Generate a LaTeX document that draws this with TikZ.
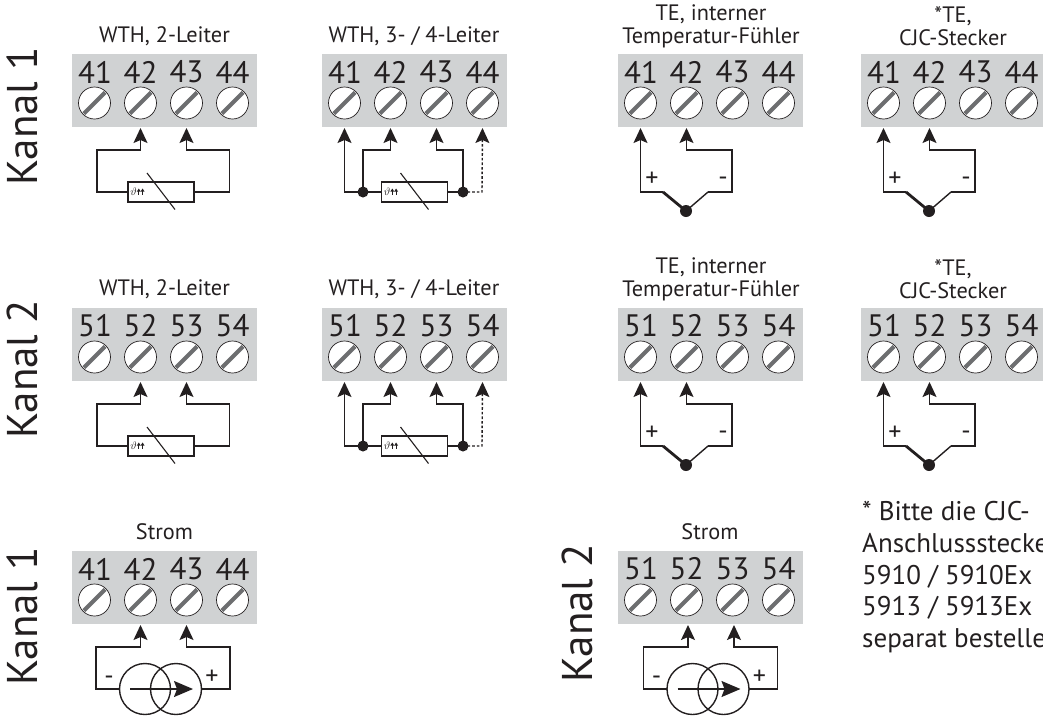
\documentclass[tikz,border=0pt]{standalone}
\usepackage{fontspec}
\setmainfont{PT Sans}
\usetikzlibrary{arrows.meta,calc}
\definecolor{blockgray}{HTML}{D0D2D3}
\definecolor{slotgray}{HTML}{6D6E70}
\definecolor{inkdark}{HTML}{231F20}
\tikzset{
  blockbox/.style={fill=blockgray,draw=none,anchor=north west,minimum width=185pt,minimum height=73pt,inner sep=0pt,outer sep=0pt},
  screwhead/.style={circle,draw=inkdark,fill=white,line width=0.7pt,minimum size=32pt,inner sep=0pt,outer sep=0pt},
  slotbar/.style={draw=slotgray,line width=4.2pt,line cap=butt,shorten >=1pt,shorten <=1pt},
  termnum/.style={font=\fontsize{31}{31}\selectfont,text=inkdark,inner sep=0pt},
  titletext/.style={font=\fontsize{22.3}{23}\selectfont,text=inkdark,inner sep=0pt,align=center},
  kanaltext/.style={font=\fontsize{43}{43}\selectfont,text=inkdark,inner sep=0pt,rotate=90},
  wire/.style={draw=inkdark,line width=1.4pt,line join=miter},
  arrowwire/.style={wire,-{Stealth[length=15pt,width=14pt,inset=3pt]}},
  dashwire/.style={draw=inkdark,line width=1.4pt,dash pattern=on 2.6pt off 2pt,-{Stealth[length=15pt,width=14pt,inset=3pt]}},
  thickwire/.style={draw=inkdark,line width=2.8pt},
  joint/.style={circle,fill=inkdark,draw=none,minimum size=#1,inner sep=0pt,outer sep=0pt},
  joint/.default=11pt,
  rtdbox/.style={draw=inkdark,fill=white,line width=1.2pt,minimum width=66pt,minimum height=20pt,inner sep=0pt,outer sep=0pt},
  slashline/.style={draw=inkdark,line width=1.1pt},
  srcring/.style={circle,draw=inkdark,line width=1.4pt,minimum size=51pt,inner sep=0pt,outer sep=0pt},
  srcarrow/.style={draw=inkdark,line width=1.6pt,-{Stealth[length=19pt,width=16pt,inset=3pt]}},
  signtext/.style={font=\fontsize{26}{26}\selectfont,text=inkdark,inner sep=0pt},
  notetext/.style={font=\fontsize{27}{31.8}\selectfont,text=inkdark,inner sep=0pt,align=left,anchor=north west},
}
% terminal block: prefix, x, y, four numbers
\newcommand{\termblock}[7]{%
  \node[blockbox] (#1) at (#2,#3) {};
  \begin{scope}[shift={(#2,#3)}]
    \node[termnum] (#1n1) at (23,18) {#4};
    \node[termnum] (#1n2) at (68.5,18) {#5};
    \node[termnum] (#1n3) at (114.5,18) {#6};
    \node[termnum] (#1n4) at (160.5,18) {#7};
    \node[screwhead] (#1s1) at (22.5,49) {};
    \node[screwhead] (#1s2) at (68.5,49) {};
    \node[screwhead] (#1s3) at (114.5,49) {};
    \node[screwhead] (#1s4) at (160.5,49) {};
    \draw[slotbar] (#1s1.225) -- (#1s1.45);
    \draw[slotbar] (#1s2.225) -- (#1s2.45);
    \draw[slotbar] (#1s3.225) -- (#1s3.45);
    \draw[slotbar] (#1s4.225) -- (#1s4.45);
    \coordinate (#1t1) at (22.5,74);
    \coordinate (#1t2) at (68.5,74);
    \coordinate (#1t3) at (114.5,74);
    \coordinate (#1t4) at (160.5,74);
  \end{scope}}
% resistor element with its temperature symbol
\newcommand{\rtdelement}[3]{%
  \node[rtdbox] (#1) at (#2,#3) {};
  \draw[slashline] ($(#1.center)+(-14,-19)$) -- ($(#1.center)+(14,17.5)$);
  \node[inner sep=0pt,text=inkdark,font=\fontsize{11}{11}\selectfont] (#1sym) at ($(#1.center)+(-27.5,-0.5)$) {$\vartheta$};
  \fill[inkdark] ($(#1.center)+(-22.2,-3.5)$) -- ++(1.9,3) -- ++(-3.8,0) -- cycle;
  \fill[inkdark] ($(#1.center)+(-18.4,-3.5)$) -- ++(1.9,3) -- ++(-3.8,0) -- cycle;
  \draw[inkdark,line width=.9pt] ($(#1.center)+(-22.2,-1)$) -- ++(0,4);
  \draw[inkdark,line width=.9pt] ($(#1.center)+(-18.4,-1)$) -- ++(0,4);}
% WTH 2-wire
\newcommand{\wthtwo}[3]{%
  \begin{scope}[shift={(#2,#3)}]
    \rtdelement{#1r}{89}{138}
    \coordinate (#1la) at (25,96);
    \coordinate (#1ra) at (157.5,96);
    \coordinate (#1lb) at (25,138);
    \coordinate (#1rb) at (157.5,138);
    \draw[arrowwire] (#1r.west) -- (#1lb) -- (#1la) -| (#1t2);
    \draw[arrowwire] (#1r.east) -- (#1rb) -- (#1ra) -| (#1t3);
  \end{scope}}
% WTH 3-/4-wire
\newcommand{\wthfour}[3]{%
  \begin{scope}[shift={(#2,#3)}]
    \rtdelement{#1r}{92.5}{138}
    \node[joint] (#1jl) at (41,138) {};
    \node[joint] (#1jr) at (141,138) {};
    \coordinate (#1la) at (41,96);
    \coordinate (#1ra) at (141,96);
    \coordinate (#1cl) at (22.5,138);
    \coordinate (#1cr) at (160,138);
    \draw[arrowwire] (#1r.west) -- (#1cl) -- (#1t1);
    \draw[arrowwire] (#1jl.center) -- (#1la) -| (#1t2);
    \draw[arrowwire] (#1r.east) -- (#1jr.center) -- (#1ra) -| (#1t3);
    \draw[dashwire] (#1jr.center) -- (#1cr) -- (#1t4);
  \end{scope}}
% thermocouple
\newcommand{\thermo}[3]{%
  \begin{scope}[shift={(#2,#3)}]
    \node[joint=12pt] (#1j) at (68,157) {};
    \coordinate (#1a) at (22.5,138);
    \coordinate (#1b) at (45,138);
    \coordinate (#1c) at (90,138);
    \coordinate (#1d) at (114,138);
    \coordinate (#1e) at (114,96);
    \draw[arrowwire] (#1b) -- (#1a) -- (#1t1);
    \draw[thickwire] (#1b) -- (#1j.center);
    \draw[wire] (#1j.center) -- (#1c);
    \draw[arrowwire] (#1c) -- (#1d) -- (#1e) -| (#1t2);
    \node[signtext] (#1plus) at (34,125) {+};
    \node[signtext] (#1minus) at (105,127) {-};
  \end{scope}}
% current source
\newcommand{\csource}[4]{%
  \begin{scope}[shift={(#2,#3)}]
    \node[srcring] (#1ca) at (73+#4,138) {};
    \node[srcring] (#1cb) at (104+#4,138) {};
    \coordinate (#1a) at (24+#4,96);
    \coordinate (#1b) at (24+#4,138);
    \coordinate (#1c) at (158+#4,96);
    \coordinate (#1d) at (158+#4,138);
    \coordinate (#1ga) at (68.5+#4,74);
    \coordinate (#1gb) at (114.5+#4,74);
    \draw[arrowwire] (#1ca.west) -- (#1b) -- (#1a) -| (#1ga);
    \draw[arrowwire] (#1cb.east) -- (#1d) -- (#1c) -| (#1gb);
    \coordinate (#1s) at (58+#4,138);
    \coordinate (#1e) at (121+#4,138);
    \draw[srcarrow] (#1s) -- (#1e);
    \node[signtext] (#1minus) at (37+#4,129) {-};
    \node[signtext] (#1plus) at (140+#4,126) {+};
  \end{scope}}
\begin{document}
\begin{tikzpicture}[x=1pt,y=-1pt]
\useasboundingbox (0,0) rectangle (1043,718);
\clip (0,0) rectangle (1043,718);
\node[kanaltext] (k1) at (22,116) {Kanal 1};
\node[kanaltext] (k2) at (22,369) {Kanal 2};
\node[kanaltext] (k3) at (22,616) {Kanal 1};
\node[kanaltext] (k4) at (577,613) {Kanal 2};

\node[titletext] (h1) at (164.5,36) {WTH, 2-Leiter};
\node[titletext] (h2) at (414,36) {WTH, 3- / 4-Leiter};
\node[titletext] (h3) at (711,26) {TE, interner\\Temperatur-Fühler};
\node[titletext] (h4) at (953,26) {*TE,\\CJC-Stecker};
\node[titletext] (h5) at (164.5,289) {WTH, 2-Leiter};
\node[titletext] (h6) at (414,289) {WTH, 3- / 4-Leiter};
\node[titletext] (h7) at (711,279) {TE, interner\\Temperatur-Fühler};
\node[titletext] (h8) at (953,279) {*TE,\\CJC-Stecker};
\node[titletext] (h9) at (164.5,532) {Strom};
\node[titletext] (h10) at (710,532) {Strom};

\termblock{a}{72}{54}{41}{42}{43}{44}
\termblock{b}{322}{54}{41}{42}{43}{44}
\termblock{c}{618}{54}{41}{42}{43}{44}
\termblock{d}{861}{54}{41}{42}{43}{44}
\termblock{e}{72}{308}{51}{52}{53}{54}
\termblock{f}{322}{308}{51}{52}{53}{54}
\termblock{g}{618}{308}{51}{52}{53}{54}
\termblock{h}{861}{308}{51}{52}{53}{54}
\termblock{i}{72}{551}{41}{42}{43}{44}
\termblock{j}{618}{551}{51}{52}{53}{54}

\wthtwo{a}{72}{54}
\wthfour{b}{322}{54}
\thermo{c}{618}{54}
\thermo{d}{861}{54}
\wthtwo{e}{72}{308}
\wthfour{f}{322}{308}
\thermo{g}{618}{308}
\thermo{h}{861}{308}
\csource{i}{72}{551}{0}
\csource{j}{618}{551}{1.5}

\node[notetext] (note) at (862,501) {* Bitte die CJC-\\Anschlussstecker\\5910 / 5910Ex\\5913 / 5913Ex\\separat bestellen};
\end{tikzpicture}
\end{document}
